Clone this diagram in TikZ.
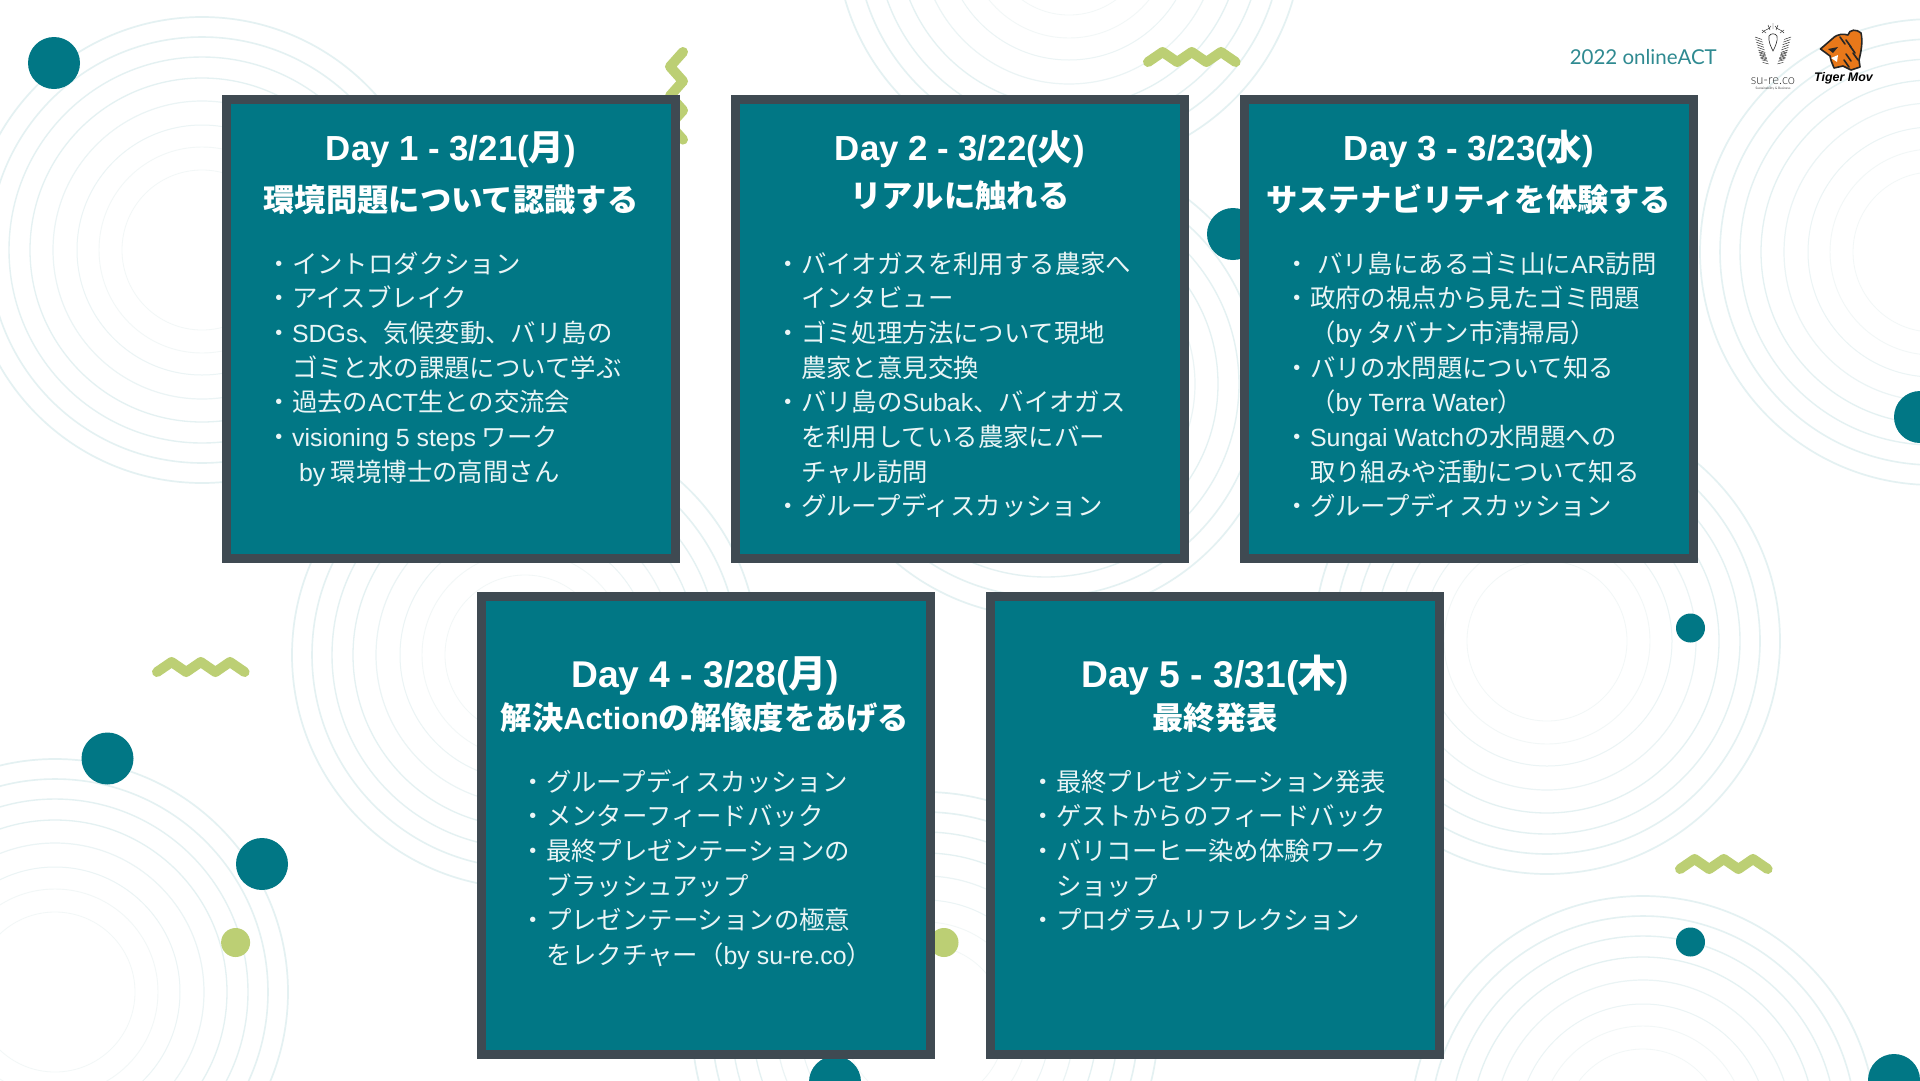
\documentclass[tikz,border=0pt]{standalone}
\usepackage{fontspec}
\setmainfont{Noto Sans CJK JP}
\newfontfamily\lat[Scale=0.98]{Liberation Sans}
\newfontfamily\lato{Lato}
\newfontfamily\latoL{Lato Light}
\newcommand{\La}[1]{{\lat #1}}
\definecolor{tealfill}{HTML}{017785}
\definecolor{boxedge}{HTML}{3F4A52}
\definecolor{leaf}{HTML}{BCCF74}
\definecolor{ringA}{HTML}{E4F1F2}
\definecolor{ringB}{HTML}{EBF4F5}
\definecolor{ringC}{HTML}{F2F7F7}
\definecolor{bodytext}{HTML}{EAF5F6}
\definecolor{brandtext}{HTML}{2F8A91}
\definecolor{tigerO}{HTML}{E8781A}
\tikzset{
  daybox/.style={draw=boxedge,fill=tealfill,line width=9pt,inner sep=0pt,outer sep=0pt},
  titlea/.style={anchor=base,text=white,inner sep=0pt,font=\fontsize{35.5}{38}\selectfont\bfseries},
  titlec/.style={anchor=base,text=white,inner sep=0pt,font=\fontsize{38}{40}\selectfont\bfseries},
  titleb/.style={anchor=base,text=white,inner sep=0pt,font=\fontsize{31.3}{34}\selectfont\bfseries},
  bodyline/.style={anchor=base west,text=bodytext,inner sep=0pt,font=\fontsize{25.4}{30}\selectfont},
  zig/.style={draw=leaf,line width=10pt,line cap=round,line join=round},
  dotbig/.style={fill=tealfill},
}
\newcommand{\ringset}[2]{%
  \foreach \r/\w/\c in {80/0.8/ringC,103/0.9/ringC,125/1/ringB,149/1.2/ringB,172/1.3/ringA,193/1.4/ringA,213/1.6/ringA,233/1.7/ringA}
    \draw[\c,line width=\w pt] (#1,#2) circle[radius=\r];
}
\newcommand{\zigh}[2]{%
  \draw[zig] (#1,#2+10) -- ++(14.6,-10) -- ++(14.6,10) -- ++(14.6,-10) -- ++(14.6,10) -- ++(14.6,-10) -- ++(14.6,10);
}
\newcommand{\bodyblock}[4]{%
  \foreach \t [count=\i] in {#4}
    \node[bodyline] (#1-\i) at (#2,#3+\i*34.7-34.7) {\t};
}
\begin{document}
\begin{tikzpicture}[x=1pt,y=-1pt]
\useasboundingbox (0,0) rectangle (1920,1080);
\clip (0,0) rectangle (1920,1080);
\fill[white] (0,0) rectangle (1920,1080);
% ring sets
\ringset{202}{250}
\ringset{55}{992}
\ringset{525}{655}
\ringset{1069}{-65}
\ringset{1046}{384}
\ringset{1547}{641}
\ringset{1643}{1129}
\ringset{1933}{252}
\ringset{925}{1025}
% zigzags
\zigh{157}{662}
\zigh{1148}{52}
\zigh{1680}{859}
\draw[zig] (683,52) -- ++(-13,14.6) -- ++(13,14.6) -- ++(-13,14.6) -- ++(13,14.6) -- ++(-13,14.6) -- ++(13,14.6);
% dots
\fill[dotbig] (54,63) circle[radius=26];
\fill[dotbig] (107.5,758.5) circle[radius=26];
\fill[dotbig] (262,864) circle[radius=26];
\fill[leaf] (235.6,942.5) circle[radius=14.5];
\fill[leaf] (944,942.5) circle[radius=14.5];
\fill[dotbig] (1690.5,628) circle[radius=14.5];
\fill[dotbig] (1690.5,942) circle[radius=14.5];
\fill[dotbig] (835,1082) circle[radius=26];
\fill[dotbig] (1233,234) circle[radius=26];
\fill[dotbig] (1920,417) circle[radius=26];
\fill[dotbig] (1894,1080) circle[radius=26];
% boxes
\node[daybox,minimum width=449pt,minimum height=459pt] (box1) at (451,329) {};
\node[daybox,minimum width=449pt,minimum height=459pt] (box2) at (960,329) {};
\node[daybox,minimum width=449pt,minimum height=459pt] (box3) at (1469,329) {};
\node[daybox,minimum width=449pt,minimum height=458pt] (box4) at (705.5,825.5) {};
\node[daybox,minimum width=449pt,minimum height=458pt] (box5) at (1214.5,825.5) {};
% titles
\node[titlea] (t1a) at (451,160.5) {\La{Day 1 - 3/21(}月\La{)}};
\node[titleb] (t1b) at (451,211) {環境問題について認識する};
\node[titlea] (t2a) at (960,160.5) {\La{Day 2 - 3/22(}火\La{)}};
\node[titleb] (t2b) at (960,207.5) {リアルに触れる};
\node[titlea] (t3a) at (1469,160.5) {\La{Day 3 - 3/23(}水\La{)}};
\node[titleb] (t3b) at (1469,211) {サステナビリティを体験する};
\node[titlec] (t4a) at (705,687.5) {\La{Day 4 - 3/28(}月\La{)}};
\node[titleb] (t4b) at (705,729) {解決\La{Action}の解像度をあげる};
\node[titlec] (t5a) at (1215,687.5) {\La{Day 5 - 3/31(}木\La{)}};
\node[titleb] (t5b) at (1215,729) {最終発表};
% bodies
\bodyblock{d1}{266.5}{273}{・イントロダクション,・アイスブレイク,・\La{SDGs}、気候変動、バリ島の,　ゴミと水の課題について学ぶ,・過去の\La{ACT}生との交流会,・\La{visioning 5 steps} ワーク,　\La{ by} 環境博士の高間さん}
\bodyblock{d2}{775.5}{273}{・バイオガスを利用する農家へ,　インタビュー,・ゴミ処理方法について現地,　農家と意見交換,・バリ島の\La{Subak}、バイオガス,　を利用している農家にバー,　チャル訪問,・グループディスカッション}
\bodyblock{d3}{1284.5}{273}{・\La{ }バリ島にあるゴミ山に\La{AR}訪問,・政府の視点から見たゴミ問題,　（\La{by} タバナン市清掃局）,・バリの水問題について知る,　（\La{by Terra Water}）,・\La{Sungai Watch}の水問題への,　取り組みや活動について知る,・グループディスカッション}
\bodyblock{d4}{520.5}{791}{・グループディスカッション,・メンターフィードバック,・最終プレゼンテーションの,　ブラッシュアップ,・プレゼンテーションの極意,　をレクチャー（\La{by su-re.co}）}
\bodyblock{d5}{1030.5}{791}{・最終プレゼンテーション発表,・ゲストからのフィードバック,・バリコーヒー染め体験ワーク,　ショップ,・プログラムリフレクション}
% header
\node[anchor=base east,inner sep=0pt,text=brandtext,font=\lato\fontsize{20.5}{24}\selectfont] (brand) at (1717,64) {2022 onlineACT};
% su-re.co mark
\begin{scope}[black!85,line width=0.45pt]
\draw[line width=0.6pt] (1769,36) .. controls (1771,33) and (1775,33) .. (1777,36) .. controls (1778,41) and (1775,47) .. (1773,51) .. controls (1771,47) and (1768,41) .. (1769,36) -- cycle;
\draw (1762,33) .. controls (1765,29) and (1769,30) .. (1771,26) (1784,33) .. controls (1781,29) and (1777,30) .. (1775,26);
\draw (1773,23) -- (1773,29) (1768,25) -- (1770,30) (1778,25) -- (1776,30) (1762,30) -- (1766,33) (1784,30) -- (1780,33);
\foreach \a in {0,2.6,...,23}{
  \draw (1755+\a*0.25,37+\a) -- ++(7,2.5);
  \draw (1791-\a*0.25,37+\a) -- ++(-7,2.5);
}
\foreach \a in {0,2.6,...,12}{
  \draw (1759+\a*0.35,52+\a) -- ++(6,1.5);
  \draw (1787-\a*0.35,52+\a) -- ++(-6,1.5);
}
\end{scope}
\node[inner sep=0pt,text=black!85,font=\latoL\fontsize{13.5}{15}\selectfont,xscale=0.95] (sureco) at (1773,81) {su-re.co};
\node[inner sep=0pt,text=black!70,font=\lato\fontsize{3.2}{4}\selectfont] (suresub) at (1773,89) {Sustainability \& Business};
% tiger mark
\draw[fill=tigerO,draw=black!85,line width=1.6pt,line join=round] (1820.5,49) -- (1832,39) .. controls (1838,33) and (1844,34) .. (1848,35) .. controls (1849,29) and (1857,29) .. (1861,33) .. controls (1863,42) and (1861,52) .. (1859,60) -- (1860,67) -- (1851,70) -- (1843,66) -- (1834,68) .. controls (1832,62) and (1830,60) .. (1830,56) -- cycle;
\fill[black!85] (1828,49) -- (1838,47) -- (1833,53) -- cycle;
\fill[white] (1831,58) -- (1838,55) -- (1837,62) -- cycle;
\foreach \p/\q in {1840/37,1846/40,1850/46,1853/53,1846/54,1844/60}
  \draw[black!85,line width=1.6pt,line cap=round] (\p,\q) -- ++(5,7);
\node[inner sep=0pt,text=black,font=\lat\bfseries\itshape\fontsize{12.7}{15}\selectfont] (tigertext) at (1843.5,78) {Tiger Mov};
\end{tikzpicture}
\end{document}
